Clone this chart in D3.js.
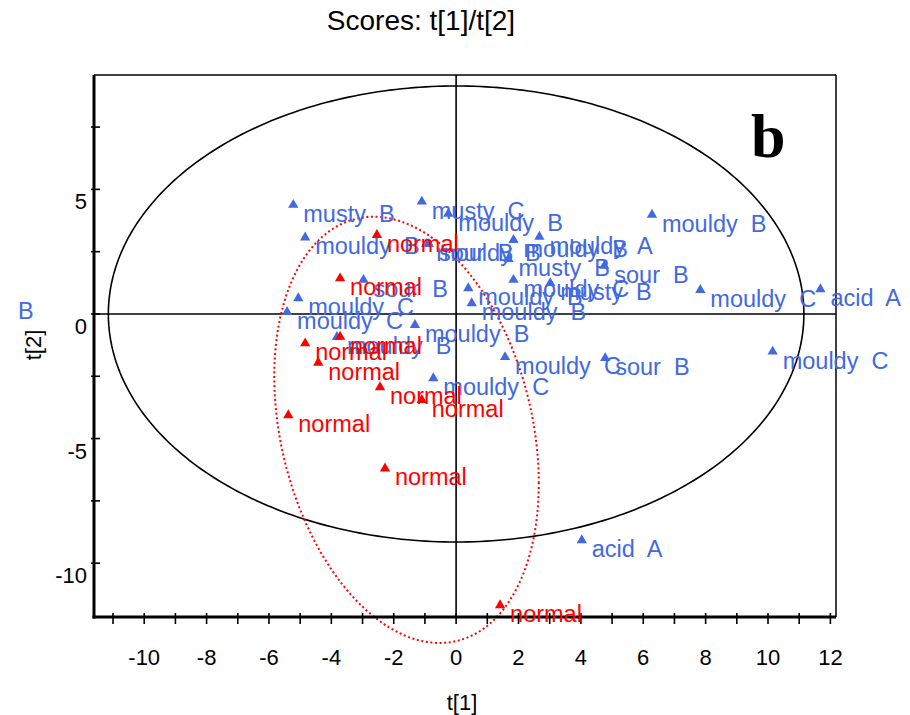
<!DOCTYPE html>
<html>
<head>
<meta charset="utf-8">
<script src="https://cdn.jsdelivr.net/npm/d3@7"></script>
<style>
  body { margin: 0; background: #fff; }
  svg text { font-family: "Liberation Sans", Arial, sans-serif; white-space: pre; }
</style>
</head>
<body>
<svg id="chart" width="910" height="715"></svg>
<script>
// scores of the off-odour samples (blue) and the normal samples (red)
const offT1 = [-5.22, -1.10, -0.25, -4.84, 1.84, 2.67, 6.28, 1.68, 1.84, 3.02, 7.83, 11.68, 10.15,
  4.75, 1.57, 4.78, -0.73, -1.32, -3.82, -5.06, -5.42, -2.97, 0.39, 0.50, -0.96, -0.87, 4.03];
const offT2 = [4.38, 4.51, 4.02, 3.07, 2.97, 3.10, 3.98, 2.21, 1.37, 1.24, 0.96, 0.99, -1.51,
  1.93, -1.73, -1.77, -2.58, -0.44, -0.92, 0.63, 0.08, 1.37, 1.03, 0.43, 2.81, 2.81, -9.08];
const offNames = ["musty  B", "musty  C", "mouldy  B", "mouldy  B", "mouldy  B", "mouldy  A",
  "mouldy  B", "musty  B", "mouldy  C", "musty  B", "mouldy  C", "acid  A", "mouldy  C",
  "sour  B", "mouldy  C", "sour  B", "mouldy  C", "mouldy  B", "mouldy  B", "mouldy  C",
  "mouldy  C", "sour  B", "mouldy  B", "mouldy  B", "mouldy  B", "sour  B", "acid  A"];

const normT1 = [-2.54, -3.72, -4.84, -3.72, -4.42, -2.44, -1.10, -5.38, -2.28, 1.41];
const normT2 = [3.17, 1.43, -1.18, -0.91, -1.96, -2.94, -3.45, -4.06, -6.20, -11.69];
const normName = "normal";

// stray label cut at the left border
const strayLabel = { t1: -14.05, t2: -0.2, text: "B" };

// Hotelling T2 ellipse semi axes
const hotA = 11.15, hotB = 9.15;
// hand drawn group ellipse: centre, x radius, y terms
const grpC = [-1.59, -4.65], grpP = 4.24, grpQ = 8.28, grpR = -2.14;

const xTicks = d3.range(-11, 13, 1);
const xTickLabels = [-10, -8, -6, -4, -2, 0, 2, 4, 6, 8, 10, 12];
const yTicks = [-10, -7.5, -5, -2.5, 0, 2.5, 5, 7.5];
const yTickLabels = [-10, -5, 0, 5];

const blue = "#4169e1", red = "#ff0000";
const pL = 94, pR = 836, pT = 75, pB = 617;
const labelSize = 23.5;

const svg = d3.select("#chart");
const x = d3.scaleLinear([-11.61, 12.18], [pL, pR]);
const y = d3.scaleLinear([-12.16, 9.59], [pB, pT]);

svg.append("text").attr("x", 421).attr("y", 30).attr("text-anchor", "middle")
  .attr("font-size", 28).text("Scores: t[1]/t[2]");

// frame
svg.append("line").attr("x1", pL).attr("x2", pR).attr("y1", pT).attr("y2", pT)
  .attr("stroke", "#000").attr("stroke-width", 1.5);
svg.append("line").attr("x1", pR).attr("x2", pR).attr("y1", pT).attr("y2", pB)
  .attr("stroke", "#000").attr("stroke-width", 1.5);

// cross lines at zero
svg.append("line").attr("x1", x(0)).attr("x2", x(0)).attr("y1", pT).attr("y2", pB)
  .attr("stroke", "#000").attr("stroke-width", 1.6);
svg.append("line").attr("x1", pL).attr("x2", pR).attr("y1", y(0)).attr("y2", y(0))
  .attr("stroke", "#000").attr("stroke-width", 1.6);

const angles = d3.range(0, 361).map(d => d * Math.PI / 180);
const line = d3.line().x(d => x(d[0])).y(d => y(d[1]));

svg.append("path")
  .attr("d", line(angles.map(a => [hotA * Math.cos(a), hotB * Math.sin(a)])))
  .attr("fill", "none").attr("stroke", "#000").attr("stroke-width", 1.6);

svg.append("path")
  .attr("d", line(angles.map(a => [grpC[0] + grpP * Math.cos(a),
    grpC[1] + grpQ * Math.sin(a) + grpR * Math.cos(a)])))
  .attr("fill", "none").attr("stroke", red).attr("stroke-width", 2)
  .attr("stroke-dasharray", "2,2.6");

// axes
svg.append("line").attr("x1", pL).attr("x2", pL).attr("y1", pT).attr("y2", pB + 1.5)
  .attr("stroke", "#000").attr("stroke-width", 3);
svg.append("line").attr("x1", pL - 1.5).attr("x2", pR).attr("y1", pB).attr("y2", pB)
  .attr("stroke", "#000").attr("stroke-width", 3);

svg.selectAll(".xt").data(xTicks).join("line")
  .attr("x1", d => x(d)).attr("x2", d => x(d)).attr("y1", pB - 4).attr("y2", pB + 7)
  .attr("stroke", "#000").attr("stroke-width", 1.6);
svg.selectAll(".xl").data(xTickLabels).join("text")
  .attr("x", d => x(d)).attr("y", pB + 48).attr("text-anchor", "middle")
  .attr("font-size", 22).text(d => d);

svg.selectAll(".yt").data(yTicks).join("line")
  .attr("x1", pL - 3).attr("x2", pL + 6).attr("y1", d => y(d)).attr("y2", d => y(d))
  .attr("stroke", "#000").attr("stroke-width", 1.6);
svg.selectAll(".yl").data(yTickLabels).join("text")
  .attr("x", 87).attr("y", d => y(d) + 20).attr("text-anchor", "end")
  .attr("font-size", 22).text(d => d);

svg.append("text").attr("x", 462).attr("y", 710).attr("text-anchor", "middle")
  .attr("font-size", 22).text("t[1]");
svg.append("text").attr("transform", "translate(41,345) rotate(-90)")
  .attr("text-anchor", "middle").attr("font-size", 22).text("t[2]");

svg.append("text").attr("x", 751).attr("y", 157)
  .style("font-family", "'Liberation Serif', 'Times New Roman', serif")
  .attr("font-weight", "bold").attr("font-size", 62).text("b");

svg.append("text").attr("x", x(strayLabel.t1)).attr("y", y(strayLabel.t2))
  .attr("font-size", labelSize).attr("fill", blue).text(strayLabel.text);

const tri = d3.symbol(d3.symbolTriangle, 46);

function drawGroup(xs, ys, names, color) {
  const g = svg.append("g");
  const pts = xs.map((d, i) => ({ t1: d, t2: ys[i], name: names[i] }));
  g.selectAll("path").data(pts).join("path")
    .attr("d", tri)
    .attr("transform", d => `translate(${x(d.t1)},${y(d.t2)})`)
    .attr("fill", color);
  g.selectAll("text").data(pts).join("text")
    .attr("x", d => x(d.t1) + 10).attr("y", d => y(d.t2) + 17)
    .attr("font-size", labelSize).attr("fill", color).text(d => d.name);
}

drawGroup(offT1, offT2, offNames, blue);
drawGroup(normT1, normT2, normT1.map(() => normName), red);
</script>
</body>
</html>
